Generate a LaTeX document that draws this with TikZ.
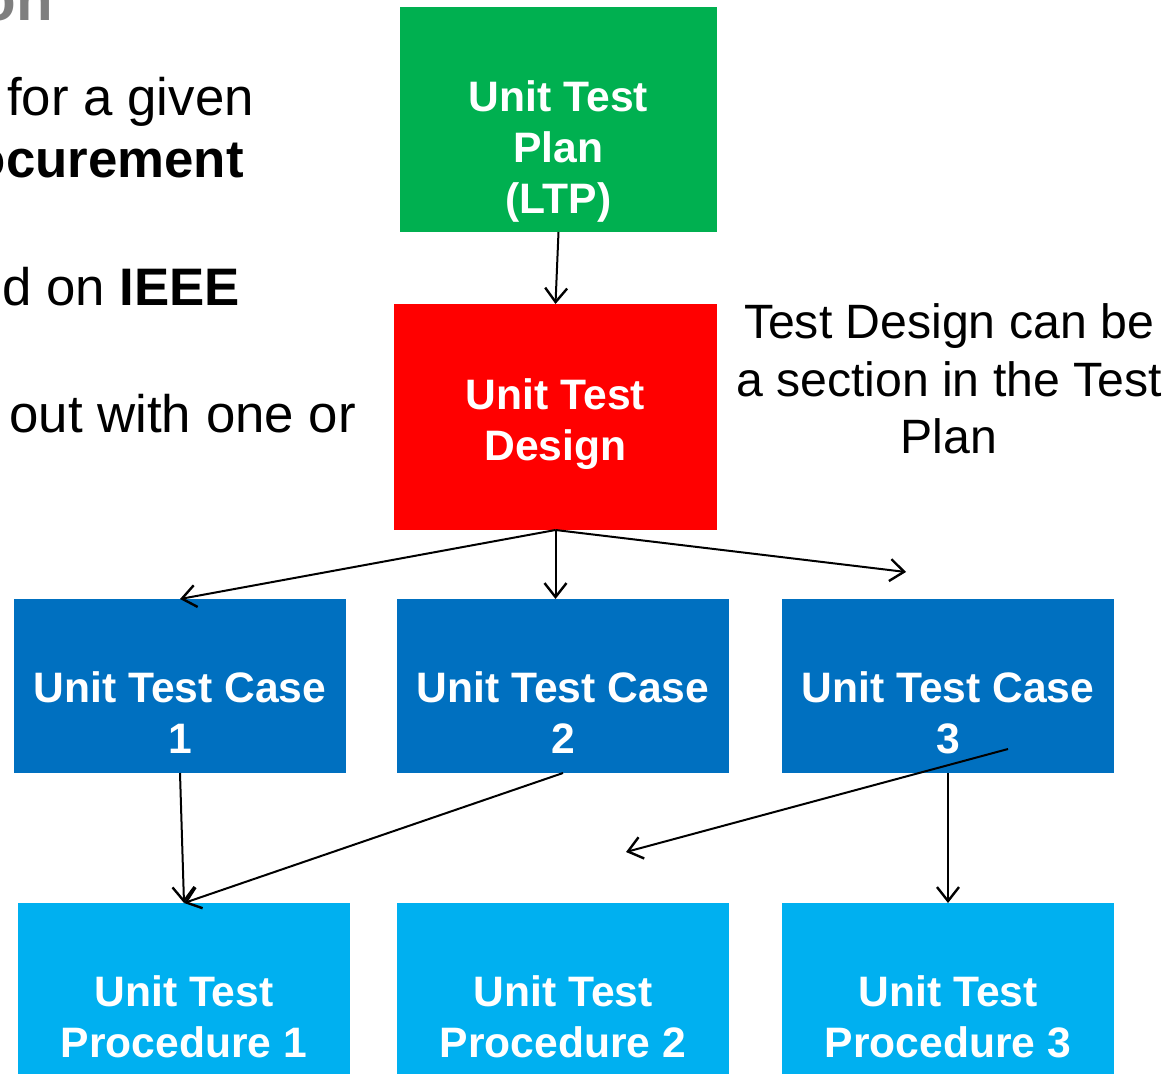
\documentclass[tikz,border=0pt]{standalone}
\usepackage{fontspec}
\setmainfont{Liberation Sans}
\usetikzlibrary{arrows.meta,calc}
\definecolor{planG}{HTML}{00B050}
\definecolor{designR}{HTML}{FF0000}
\definecolor{caseB}{HTML}{0070C0}
\definecolor{procB}{HTML}{00B0F0}
\definecolor{titleGray}{HTML}{7F7F7F}
\tikzset{
  box/.style={draw=none, inner sep=0pt, outer sep=0pt},
  boxtext/.style={anchor=north, inner sep=0pt, align=center, text=white,
    font=\bfseries\fontsize{42.6}{51}\selectfont},
  bodytext/.style={inner sep=0pt, anchor=base east, font=\fontsize{52.8}{63}\selectfont},
  arr/.style={line width=2pt, -{Straight Barb[length=14pt,width=22pt,line width=2.4pt]}},
}
\begin{document}
\begin{tikzpicture}[x=1pt,y=-1pt]
\useasboundingbox (0,0) rectangle (1172,1074);
\clip (0,0) rectangle (1172,1074);
% left slide text (cut off)
\node[inner sep=0pt, anchor=base east, text=titleGray, font=\bfseries\fontsize{60}{70}\selectfont] (ttl) at (53,20) {on};
\node[bodytext] (t1) at (254,115) {for a given};
\node[bodytext] (t2) at (244,177) {\bfseries ocurement};
\node[bodytext] (t3) at (240,305) {d on \bfseries IEEE};
\node[bodytext] (t4) at (356,432) {out with one or};
% boxes
\path[fill=planG] (400,7) rectangle (717,232);
\node[box, minimum width=317pt, minimum height=225pt] (g) at (558.5,119.5) {};
\node[boxtext] (gt) at ($(g.north)+(0,73)$) {Unit Test\\Plan\\(LTP)};
\path[fill=designR] (394,304) rectangle (717,530);
\node[box, minimum width=323pt, minimum height=226pt] (r) at (555.5,417) {};
\node[boxtext] (rt) at ($(r.north)+(0,74)$) {Unit Test\\Design};
\foreach \i/\x in {1/180,2/563,3/948}{
  \fill[caseB] (\x-166,599) rectangle (\x+166,773);
  \node[box, minimum width=332pt, minimum height=174pt] (c\i) at (\x,686) {};
  \node[boxtext] (ct\i) at ($(c\i.north)+(0,72)$) {Unit Test Case\\\i};
}
\foreach \i/\x in {1/184,2/563,3/948}{
  \fill[procB] (\x-166,903) rectangle (\x+166,1074);
  \node[box, minimum width=332pt, minimum height=171pt] (p\i) at (\x,988.5) {};
  \node[boxtext] (pt\i) at ($(p\i.north)+(0,72)$) {Unit Test\\Procedure \i};
}
% note
\node[inner sep=0pt, align=center, font=\fontsize{48.2}{57.5}\selectfont] (note) at (949,379) {Test Design can be\\a section in the Test\\Plan};
% free ends
\coordinate (e4) at (906,572);
\coordinate (s7) at (1008,749);
\coordinate (e7) at (626,852);
% arrows
\draw[arr] (g.south) -- (r.north);
\draw[arr] (r.south) -- (c1.north);
\draw[arr] (r.south) -- (r.south |- c2.north);
\draw[arr] (r.south) -- (e4);
\draw[arr] (c1.south) -- (p1.north);
\draw[arr] (c2.south) -- (p1.north);
\draw[arr] (s7) -- (e7);
\draw[arr] (c3.south) -- (p3.north);
\end{tikzpicture}
\end{document}
